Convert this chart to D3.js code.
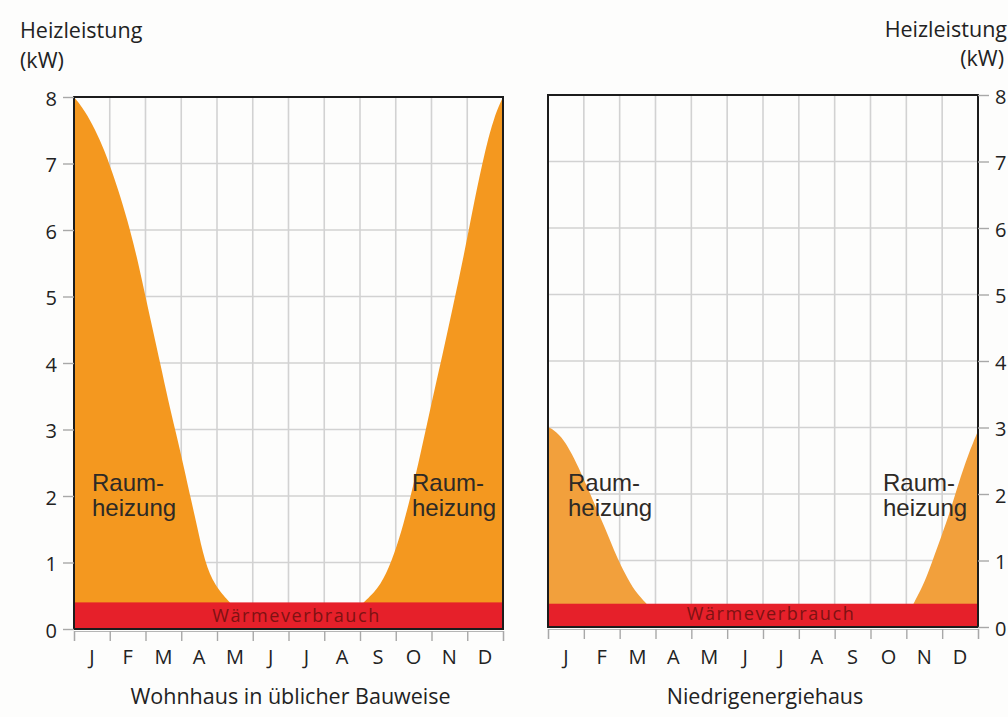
<!DOCTYPE html>
<html>
<head>
<meta charset="utf-8">
<script src="https://cdn.jsdelivr.net/npm/d3@7"></script>
<style>
  html, body { margin: 0; padding: 0; background: #fdfdfc; }
  svg { display: block; }
</style>
</head>
<body>
<svg id="chart" width="1008" height="717"></svg>
<script>
// ---------------- DATA ----------------
const monthLabels = ["J", "F", "M", "A", "M", "J", "J", "A", "S", "O", "N", "D"];
const yTickValues = [0, 1, 2, 3, 4, 5, 6, 7, 8];

const yAxisTitle = ["Heizleistung", "(kW)"];
const panelTitles = ["Wohnhaus in üblicher Bauweise", "Niedrigenergiehaus"];
const areaLabel = ["Raum-", "heizung"];
const bandLabel = "Wärmeverbrauch";

// Wohnhaus in üblicher Bauweise – Raumheizung (month position, kW)
const wohnSpringMonth = [0, 0.3, 0.6, 0.85, 1.05, 1.3, 1.57, 1.8, 2.0, 2.22, 2.41, 2.64, 2.83, 3.1, 3.25, 3.43, 3.66, 3.94, 4.36];
const wohnSpringKW    = [8, 7.8, 7.5, 7.2, 6.9, 6.5, 6.0, 5.5, 5.0, 4.46, 4.0, 3.42, 3.0, 2.37, 2.0, 1.58, 1.0, 0.65, 0.4];
const wohnAutumnMonth = [8.1, 8.5, 8.8, 9.1, 9.4, 9.7, 10.0, 10.3, 10.6, 10.9, 11.2, 11.5, 11.75, 12];
const wohnAutumnKW    = [0.4, 0.6, 0.9, 1.35, 1.95, 2.65, 3.4, 4.1, 4.85, 5.6, 6.45, 7.2, 7.7, 8.0];
const wohnWarmwasserKW = 0.4;

// Niedrigenergiehaus – Raumheizung
const nehSpringMonth = [0, 0.1, 0.38, 0.61, 0.85, 1.17, 1.45, 1.73, 1.96, 2.24, 2.48, 2.75];
const nehSpringKW    = [3.0, 2.99, 2.86, 2.66, 2.41, 2.01, 1.66, 1.31, 1.0, 0.71, 0.5, 0.35];
const nehAutumnMonth = [10.2, 10.4, 10.6, 10.8, 11.0, 11.2, 11.45, 11.73, 12];
const nehAutumnKW    = [0.35, 0.55, 0.8, 1.1, 1.4, 1.7, 2.15, 2.6, 2.95];
const nehWarmwasserKW = 0.35;

// ---------------- LAYOUT ----------------
const svg = d3.select("#chart");
const FONT = "'Open Sans', 'DejaVu Sans', sans-serif";
const LABEL_FONT = "'Liberation Sans', Arial, sans-serif";

const panels = [
  { x0: 74, x1: 503, yTop: 97, yBot: 629, axis: "left", title: panelTitles[0],
    areas: [[wohnSpringMonth, wohnSpringKW], [wohnAutumnMonth, wohnAutumnKW]],
    band: wohnWarmwasserKW, fill: "#f4981f",
    labels: [92, 412] },
  { x0: 548, x1: 978, yTop: 95, yBot: 627, axis: "right", title: panelTitles[1],
    areas: [[nehSpringMonth, nehSpringKW], [nehAutumnMonth, nehAutumnKW]],
    band: nehWarmwasserKW, fill: "#f2a03c",
    labels: [568, 883] }
];

panels.forEach(p => {
  const x = d3.scaleLinear().domain([0, 12]).range([p.x0, p.x1]);
  const y = d3.scaleLinear().domain([0, 8]).range([p.yBot, p.yTop]);
  const g = svg.append("g");

  // grid
  g.append("g").selectAll("line").data(d3.range(1, 12)).join("line")
    .attr("x1", d => x(d)).attr("x2", d => x(d))
    .attr("y1", p.yTop).attr("y2", p.yBot)
    .attr("stroke", "#d2d2d2").attr("stroke-width", 1.6);
  g.append("g").selectAll("line").data(yTickValues.slice(1, -1)).join("line")
    .attr("x1", p.x0).attr("x2", p.x1)
    .attr("y1", d => y(d)).attr("y2", d => y(d))
    .attr("stroke", "#d2d2d2").attr("stroke-width", 1.6);

  // Raumheizung areas
  const area = d3.area()
    .x(d => x(d[0])).y0(y(0)).y1(d => y(d[1]))
    .curve(d3.curveBasis);
  p.areas.forEach(([ms, vs]) => {
    g.append("path").datum(ms.map((m, i) => [m, vs[i]]))
      .attr("d", area).attr("fill", p.fill);
  });

  // Wärmeverbrauch band
  g.append("rect")
    .attr("x", x(0)).attr("width", x(12) - x(0))
    .attr("y", y(p.band)).attr("height", y(0) - y(p.band))
    .attr("fill", "#e6202a");
  g.append("text")
    .attr("x", (x(0) + x(12)) / 2 + 8).attr("y", y(0) - 7)
    .attr("text-anchor", "middle")
    .attr("font-family", FONT).attr("font-size", 18).attr("letter-spacing", 1.6)
    .attr("fill", "#7e1212").text(bandLabel);

  // frame
  g.append("rect")
    .attr("x", p.x0).attr("y", p.yTop)
    .attr("width", p.x1 - p.x0).attr("height", p.yBot - p.yTop)
    .attr("fill", "none").attr("stroke", "#1c1c1c").attr("stroke-width", 2);

  // x axis with month labels
  const xAxisG = g.append("g").attr("transform", `translate(0,${p.yBot + 2})`)
    .call(d3.axisBottom(x).tickValues(d3.range(0, 13)).tickSize(10).tickFormat(""));
  xAxisG.select(".domain").attr("stroke", "#b5b5b5").attr("stroke-width", 1.2);
  xAxisG.selectAll(".tick line").attr("stroke", "#a8a8a8").attr("stroke-width", 1.4);

  g.append("g").selectAll("text").data(monthLabels).join("text")
    .attr("x", (d, i) => x(i + 0.5)).attr("y", 664)
    .attr("text-anchor", "middle")
    .attr("font-family", FONT).attr("font-size", 20).attr("fill", "#222")
    .text(d => d);

  // y axis
  const axisGen = p.axis === "left" ? d3.axisLeft(y) : d3.axisRight(y);
  const ya = g.append("g").attr("transform", `translate(${p.axis === "left" ? p.x0 : p.x1},0)`)
    .call(axisGen.tickValues(yTickValues).tickSize(11).tickPadding(6).tickFormat(d3.format("d")));
  ya.select(".domain").remove();
  ya.selectAll(".tick line").attr("stroke", "#a8a8a8").attr("stroke-width", 1.4);
  ya.selectAll(".tick text").attr("font-family", FONT).attr("font-size", 20).attr("fill", "#222").attr("dy", "0.4em");

  // Raumheizung labels
  p.labels.forEach(lx => {
    const t = g.append("text").attr("font-family", LABEL_FONT).attr("font-size", 24).attr("fill", "#2e2a26");
    t.append("tspan").attr("x", lx).attr("y", 491).text(areaLabel[0]);
    t.append("tspan").attr("x", lx).attr("y", 516).text(areaLabel[1]);
  });

  // panel title
  g.append("text")
    .attr("x", (p.x0 + p.x1) / 2 + 2).attr("y", 704)
    .attr("text-anchor", "middle")
    .attr("font-family", FONT).attr("font-size", 21.5).attr("fill", "#222")
    .text(p.title);
});

// axis titles
svg.append("text").attr("x", 20).attr("y", 38)
  .attr("font-family", FONT).attr("font-size", 21.5).attr("fill", "#222").text(yAxisTitle[0]);
svg.append("text").attr("x", 20).attr("y", 68)
  .attr("font-family", FONT).attr("font-size", 21.5).attr("fill", "#222").text(yAxisTitle[1]);
svg.append("text").attr("x", 1007).attr("y", 37).attr("text-anchor", "end")
  .attr("font-family", FONT).attr("font-size", 21.5).attr("fill", "#222").text(yAxisTitle[0]);
svg.append("text").attr("x", 1004).attr("y", 66).attr("text-anchor", "end")
  .attr("font-family", FONT).attr("font-size", 21.5).attr("fill", "#222").text(yAxisTitle[1]);
</script>
</body>
</html>
